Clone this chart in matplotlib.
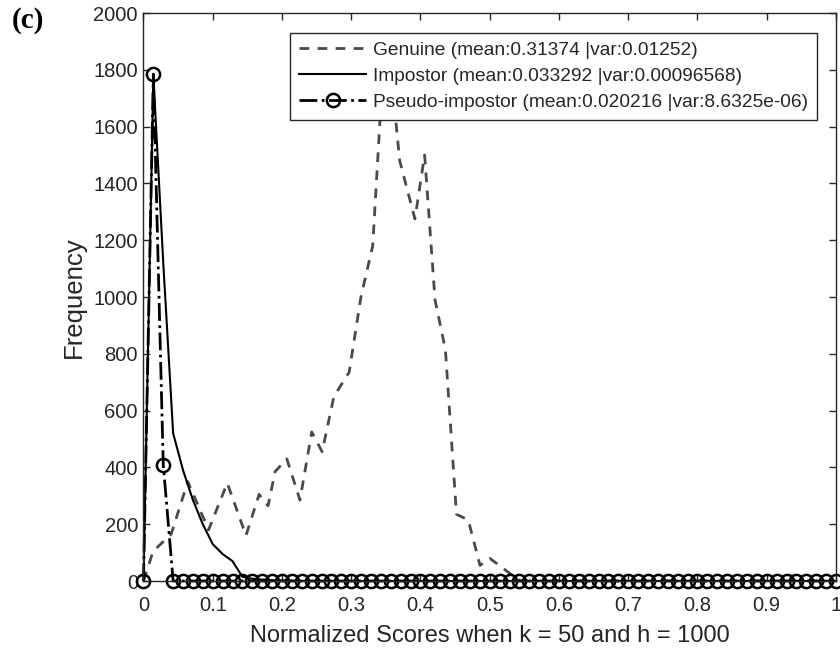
import numpy as np
import matplotlib.pyplot as plt

# score bins shared by the impostor curves (71 bins from 0 to 1)
score_bins = np.linspace(0, 1, 71)

impostor_freq = [0, 1780, 1120, 520, 390, 285, 200, 130, 95, 70, 15, 8, 5, 3, 2, 1] + [0] * 55
pseudo_freq = [0, 1785, 410] + [0] * 68

# genuine curve
genuine_x = [0.0, 0.014, 0.04, 0.064, 0.094, 0.121, 0.148, 0.167, 0.18, 0.19, 0.207,
             0.226, 0.243, 0.258, 0.275, 0.297, 0.314, 0.331, 0.343, 0.362, 0.37,
             0.392, 0.406, 0.421, 0.436, 0.452, 0.469, 0.486, 0.5, 0.53, 0.545, 1.0]
genuine_freq = [0, 105, 165, 350, 180, 345, 160, 305, 265, 385, 430,
                285, 525, 455, 650, 735, 1000, 1180, 1680, 1680, 1480,
                1275, 1500, 990, 815, 235, 215, 55, 80, 25, 0, 0]

labels = ['Genuine (mean:0.31374 |var:0.01252)',
          'Impostor (mean:0.033292 |var:0.00096568)',
          'Pseudo-impostor (mean:0.020216 |var:8.6325e-06)']

plt.rcParams['font.family'] = ['Liberation Sans', 'DejaVu Sans']
axcol = '#262626'

fig = plt.figure(figsize=(8.4, 6.51), dpi=100)
ax = fig.add_axes([0.1708, 0.1075, 0.8244, 0.8725])

l1, = ax.plot(genuine_x, genuine_freq, color='#4a4a4a', lw=2, linestyle=(0, (3.5, 3)))
l2, = ax.plot(score_bins, impostor_freq, color='black', lw=1.5)
l3, = ax.plot(score_bins, pseudo_freq, color='black', lw=2, linestyle='-.',
              marker='o', ms=9.5, mfc='none', mec='black', mew=1.8, clip_on=False)

ax.set_xlim(0, 1)
ax.set_ylim(0, 2000)
ax.set_xticks(np.arange(0, 1.01, 0.1))
ax.set_xticklabels(['0', '0.1', '0.2', '0.3', '0.4', '0.5', '0.6', '0.7', '0.8', '0.9', '1'])
ax.set_yticks(np.arange(0, 2001, 200))
ax.tick_params(direction='in', top=True, right=True, length=5, width=1,
               labelsize=14.5, colors=axcol)
ax.tick_params(axis='x', pad=11)
ax.tick_params(axis='y', pad=4)
for s in ax.spines.values():
    s.set_color(axcol)
    s.set_linewidth(1)

ax.set_xlabel('Normalized Scores when k = 50 and h = 1000', fontsize=17, color=axcol, labelpad=7)
ax.set_ylabel('Frequency', fontsize=18.5, color=axcol, labelpad=5)

leg = ax.legend([l1, l2, l3], labels, loc='upper right', bbox_to_anchor=(0.972, 0.965),
                borderaxespad=0, fontsize=13.8, fancybox=False, framealpha=1,
                edgecolor=axcol, handlelength=3.5, handletextpad=0.35,
                labelspacing=0.45, borderpad=0.45)
leg.get_frame().set_linewidth(1)
for t in leg.get_texts():
    t.set_color(axcol)

fig.text(0.014, 0.99, '(c)', fontfamily='Liberation Serif', fontweight='bold',
         fontsize=21, va='top', ha='left')

fig.savefig('out.png', dpi=100)
